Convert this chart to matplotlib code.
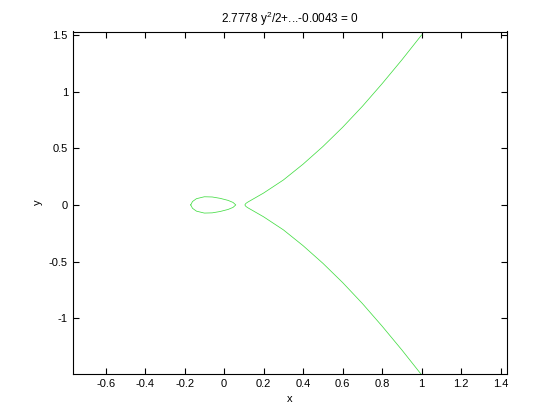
import matplotlib.pyplot as plt
import numpy as np
from matplotlib.ticker import FormatStrFormatter

plt.rcParams['font.family'] = ['Liberation Sans', 'DejaVu Sans']
plt.rcParams['mathtext.default'] = 'regular'

# upper half of the open branch (curve is symmetric about y=0)
branch_x = [0.105, 0.11, 0.12, 0.15, 0.2, 0.3, 0.4, 0.5, 0.6, 0.7, 0.8, 0.9, 0.95, 1.0]
branch_y = [0.0, 0.013, 0.025, 0.055, 0.105, 0.22, 0.36, 0.515, 0.685, 0.87, 1.07, 1.28, 1.39, 1.50]

# upper half of the small oval
oval_x = [-0.169, -0.16, -0.14, -0.10, -0.06, -0.02, 0.02, 0.045, 0.059]
oval_y = [0.0, 0.03, 0.055, 0.072, 0.07, 0.058, 0.04, 0.022, 0.0]

x_ticks = [-0.6, -0.4, -0.2, 0, 0.2, 0.4, 0.6, 0.8, 1, 1.2, 1.4]
y_ticks = [-1, -0.5, 0, 0.5, 1, 1.5]

fig = plt.figure(figsize=(5.6, 4.2), dpi=100)
ax = fig.add_axes([0.13, 0.11, 0.775, 0.815])

bx = np.array(branch_x)
by = np.array(branch_y)
ox = np.array(oval_x)
oy = np.array(oval_y)

green = '#44dd44'
ax.plot(np.concatenate([bx[::-1], bx[1:]]), np.concatenate([by[::-1], -by[1:]]),
        color=green, lw=0.55)
ax.plot(np.concatenate([ox, ox[::-1]]), np.concatenate([oy, -oy[::-1]]),
        color=green, lw=0.55)

ax.set_xlim(-0.766, 1.431)
ax.set_ylim(-1.49, 1.53)
ax.set_xticks(x_ticks)
ax.set_yticks(y_ticks)
ax.xaxis.set_major_formatter(FormatStrFormatter('%g'))
ax.yaxis.set_major_formatter(FormatStrFormatter('%g'))
ax.tick_params(direction='in', top=True, right=True, length=4, labelsize=8)
for s in ax.spines.values():
    s.set_linewidth(0.8)

ax.set_title(r'2.7778 y$^{2}$/2+...-0.0043 = 0', fontsize=8.5)
ax.set_xlabel('x', fontsize=8)
ax.set_ylabel('y', fontsize=8)

plt.savefig('out.png', dpi=100)
